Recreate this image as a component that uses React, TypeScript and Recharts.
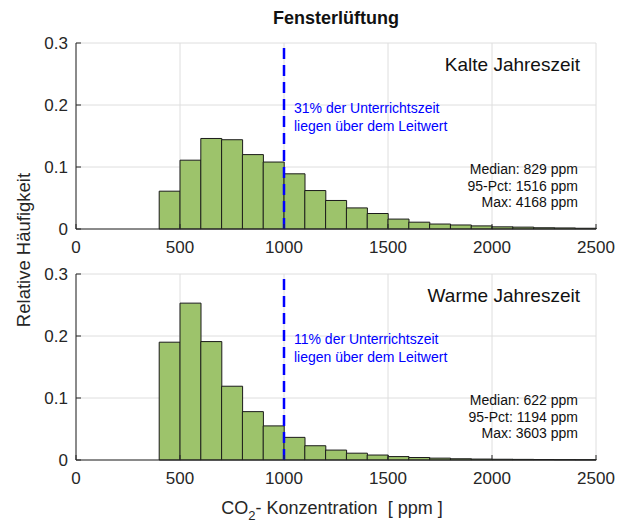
import React from "react";
import { BarChart, Bar, XAxis, YAxis, CartesianGrid, ReferenceLine } from "recharts";

// bin starts (100 ppm bins)
const binStarts = [0, 100, 200, 300, 400, 500, 600, 700, 800, 900, 1000, 1100, 1200, 1300, 1400, 1500, 1600, 1700, 1800, 1900, 2000, 2100, 2200, 2300, 2400];

const kalteValues = [null, null, null, null, 0.061, 0.111, 0.146, 0.144, 0.12, 0.108, 0.089, 0.062, 0.046, 0.034, 0.025, 0.016, 0.011, 0.008, 0.0065, 0.005, 0.0035, 0.003, 0.002, 0.0017, 0.0012];
const warmeValues = [null, null, null, null, 0.19, 0.253, 0.191, 0.119, 0.078, 0.055, 0.0365, 0.023, 0.016, 0.011, 0.008, 0.0055, 0.004, 0.003, 0.002, 0.0015, 0.0012, 0.001, 0.0008, 0.0006, 0.0005];

const xTicks = [0, 500, 1000, 1500, 2000, 2500];
const yTicks = [0, 0.1, 0.2, 0.3];
const leitwert = 1000;

const kalteStats = ["Median: 829 ppm", "95-Pct: 1516 ppm", "Max: 4168 ppm"];
const warmeStats = ["Median: 622 ppm", "95-Pct: 1194 ppm", "Max: 3603 ppm"];
const kalteNote = ["31% der Unterrichtszeit", "liegen über dem Leitwert"];
const warmeNote = ["11% der Unterrichtszeit", "liegen über dem Leitwert"];

const FONT = "'Liberation Sans', Arial, Helvetica, sans-serif";
const AXIS = "#262626";

const toRows = (vals: (number | null)[]) => binStarts.map((s, i) => ({ start: s, value: vals[i] }));

function Panel({ values, top }: { values: (number | null)[]; top: number }) {
  return (
    <div style={{ position: "absolute", left: 0, top }}>
      <BarChart
        width={617}
        height={260}
        data={toRows(values)}
        margin={{ top: 43, right: 21, bottom: 1, left: 0 }}
        barCategoryGap={0}
        barGap={0}
      >
        <CartesianGrid stroke="#dedede" strokeWidth={1} />
        <XAxis
          dataKey="start"
          type="number"
          domain={[0, 2500]}
          ticks={xTicks}
          height={30}
          tick={{ fontSize: 17, fill: AXIS, fontFamily: FONT }}
          tickSize={-5}
          tickMargin={17}
          stroke={AXIS}
        />
        <XAxis xAxisId="bins" dataKey="start" type="category" hide />
        <XAxis
          xAxisId="top"
          orientation="top"
          type="number"
          domain={[0, 2500]}
          ticks={xTicks}
          height={0}
          tick={false}
          tickSize={-5}
          stroke={AXIS}
        />
        <YAxis
          type="number"
          domain={[0, 0.3]}
          ticks={yTicks}
          width={76}
          tickFormatter={(v) => String(v)}
          tick={{ fontSize: 17, fill: AXIS, fontFamily: FONT }}
          tickSize={-5}
          tickMargin={13}
          stroke={AXIS}
        />
        <YAxis
          yAxisId="right"
          orientation="right"
          type="number"
          domain={[0, 0.3]}
          ticks={yTicks}
          width={0}
          tick={false}
          tickSize={-5}
          stroke={AXIS}
        />
        <Bar
          xAxisId="bins"
          dataKey="value"
          fill="#9dc36b"
          stroke="#1a1a1a"
          strokeWidth={1}
          isAnimationActive={false}
        />
        <ReferenceLine x={leitwert} stroke="#0000ff" strokeWidth={2.5} strokeDasharray="11 6" />
      </BarChart>
    </div>
  );
}

function Annotations({ y0, title, note, stats }: { y0: number; title: string; note: string[]; stats: string[] }) {
  return (
    <g fontFamily={FONT}>
      <text x={580} y={y0 + 28} textAnchor="end" fontSize={19} fill="#111">{title}</text>
      {note.map((t, i) => (
        <text key={t} x={294} y={y0 + 70 + i * 17.5} fontSize={14} fill="#0000ff">{t}</text>
      ))}
      {stats.map((t, i) => (
        <text key={t} x={578} y={y0 + 131 + i * 16.7} textAnchor="end" fontSize={14} fill="#111">{t}</text>
      ))}
    </g>
  );
}

export default function App() {
  return (
    <div style={{ position: "absolute", left: 0, top: 0, width: 617, height: 524, background: "#fff", fontFamily: FONT }}>
      <Panel values={kalteValues} top={0} />
      <Panel values={warmeValues} top={231} />
      <svg width={617} height={524} style={{ position: "absolute", left: 0, top: 0, pointerEvents: "none" }}>
        <text x={336} y={24} textAnchor="middle" fontSize={18} fontWeight="bold" fontFamily={FONT} fill="#111">
          Fensterlüftung
        </text>
        <text
          transform="translate(30,250) rotate(-90)"
          textAnchor="middle"
          fontSize={18.5}
          fontFamily={FONT}
          fill="#262626"
        >
          Relative Häufigkeit
        </text>
        <text
          x={332}
          y={514}
          textAnchor="middle"
          fontSize={18}
          fontFamily={FONT}
          fill="#262626"
          style={{ whiteSpace: "pre" }}
        >
          CO<tspan fontSize={13} dy={6}>2</tspan><tspan dy={-6}>{"- Konzentration  [ ppm ]"}</tspan>
        </text>
        <Annotations y0={43} title="Kalte Jahreszeit" note={kalteNote} stats={kalteStats} />
        <Annotations y0={274} title="Warme Jahreszeit" note={warmeNote} stats={warmeStats} />
      </svg>
    </div>
  );
}
